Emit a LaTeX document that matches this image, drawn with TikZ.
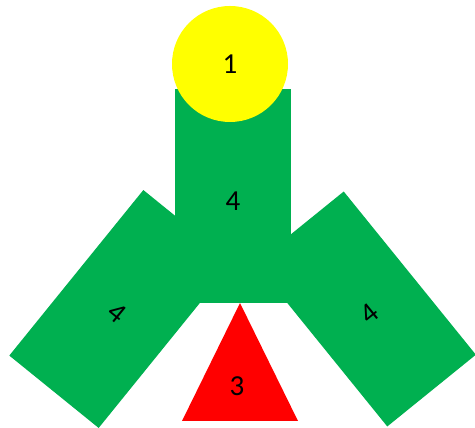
\documentclass[tikz,border=0pt]{standalone}
\usepackage{fontspec}
\setmainfont{Carlito}
\usepackage{xcolor}
\definecolor{shapegreen}{HTML}{00B050}
\definecolor{shapeyellow}{HTML}{FFFF00}
\definecolor{shapered}{HTML}{FF0000}
\usetikzlibrary{calc}

\tikzset{
  armbox/.style={rectangle, fill=shapegreen, inner sep=0pt},
  digit/.style={font=\fontsize{29}{35}\selectfont, text=black, inner sep=0pt}
}

\begin{document}
\begin{tikzpicture}[x=1pt, y=1pt]
\useasboundingbox (0,0) rectangle (475,428);
% slanted arms
\node[armbox, minimum width=115pt, minimum height=213pt, rotate=-39] (leftarm) at (121,119) {};
\node[armbox, minimum width=114pt, minimum height=210pt, rotate=39] (rightarm) at (365.5,119) {};
% upright stem and head
\node[armbox, minimum width=116pt, minimum height=214pt] (stem) at (233,232) {};
\node[circle, fill=shapeyellow, minimum size=116pt, inner sep=0pt] (head) at (230,364) {};
% triangle below
\coordinate (apex) at (240,125);
\coordinate (baseL) at (182,7);
\coordinate (baseR) at (298,7);
\fill[shapered] (apex) -- (baseL) -- (baseR) -- cycle;
% labels
\node[digit] (headtxt) at (head) {1};
\node[digit] (stemtxt) at ($(stem.center)!5.5pt!(stem.south)$) {4};
\node[digit, rotate=-39] (lefttxt) at ($(leftarm.center)!5.5pt!(leftarm.south)$) {4};
\node[digit, rotate=39] (righttxt) at ($(rightarm.center)!5.5pt!(rightarm.south)$) {4};
\node[digit] (tritxt) at (237,42) {3};
\end{tikzpicture}
\end{document}
